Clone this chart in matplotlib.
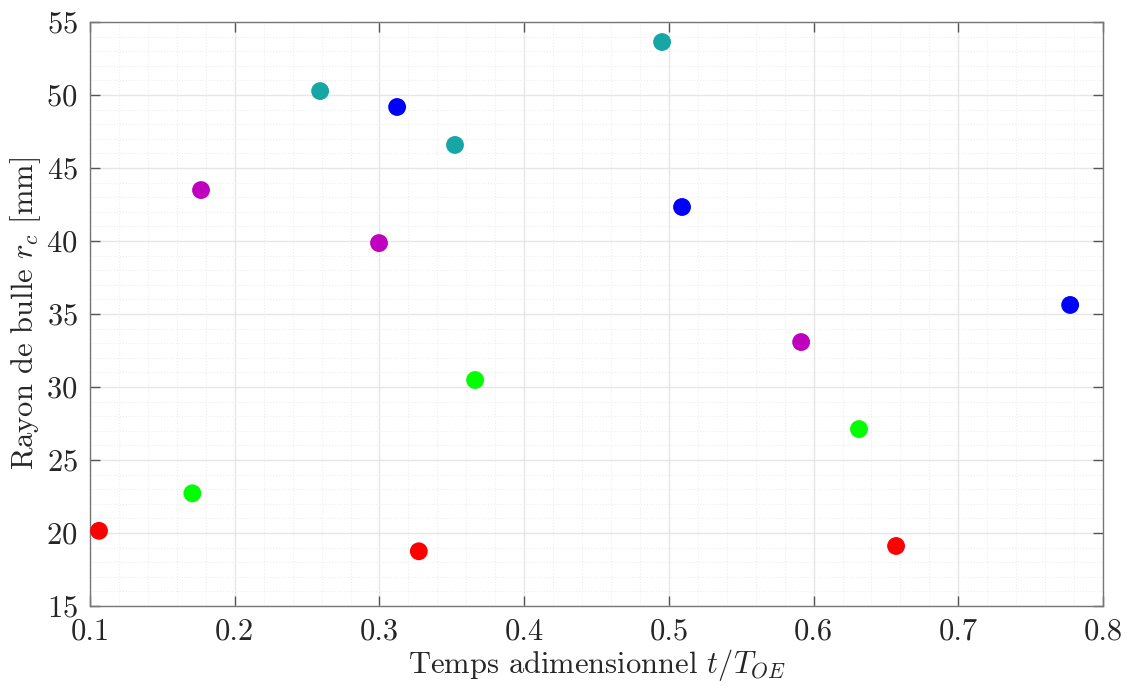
import numpy as np
import matplotlib
matplotlib.use("Agg")
import matplotlib.pyplot as plt
from matplotlib.ticker import MultipleLocator, FormatStrFormatter

# one group per colour, three points each
t_red = [0.1062, 0.3272, 0.6570]
r_red = [20.15, 18.75, 19.11]
t_green = [0.1707, 0.3661, 0.6314]
r_green = [22.72, 30.48, 27.12]
t_magenta = [0.1767, 0.2997, 0.5914]
r_magenta = [43.49, 39.86, 33.08]
t_teal = [0.2590, 0.3522, 0.4953]
r_teal = [50.27, 46.58, 53.63]
t_blue = [0.3122, 0.5091, 0.7773]
r_blue = [49.18, 42.33, 35.62]

plt.rcParams['font.family'] = 'serif'
plt.rcParams['font.serif'] = ['cmr10']
plt.rcParams['mathtext.fontset'] = 'cm'
plt.rcParams['axes.formatter.use_mathtext'] = True

fig = plt.figure(figsize=(11.27, 6.86), dpi=100)
ax = fig.add_axes([0.0799, 0.1166, 0.8988, 0.8513])

groups = [
    (t_red, r_red, '#ff0000'),
    (t_green, r_green, '#00ff00'),
    (t_magenta, r_magenta, '#bf00bf'),
    (t_teal, r_teal, '#17a6a6'),
    (t_blue, r_blue, '#0000ff'),
]
for t, r, c in groups:
    ax.scatter(t, r, s=165, color=c, edgecolors='none', zorder=3)

ax.set_xlim(0.1, 0.8)
ax.set_ylim(15, 55)
ax.xaxis.set_major_locator(MultipleLocator(0.1))
ax.xaxis.set_minor_locator(MultipleLocator(0.02))
ax.xaxis.set_major_formatter(FormatStrFormatter('%.1f'))
ax.yaxis.set_major_locator(MultipleLocator(5))
ax.yaxis.set_minor_locator(MultipleLocator(1))

ax.grid(which='major', color='#e6e6e6', linewidth=1.0, linestyle='-')
ax.grid(which='minor', color='#eeeeee', linewidth=0.8, linestyle=':')
ax.set_axisbelow(True)

for sp in ax.spines.values():
    sp.set_color('#777777')
    sp.set_linewidth(1.0)
ax.tick_params(which='major', direction='in', length=7, width=1.0,
               top=True, right=True, color='#555555', labelsize=22,
               labelcolor='#262626', pad=9)
ax.tick_params(which='minor', length=0)

ax.set_xlabel(r'Temps adimensionnel $t/T_{OE}$', fontsize=22, color='#262626', labelpad=1)
ax.set_ylabel(r'Rayon de bulle $r_c$ [mm]', fontsize=22, color='#262626', labelpad=2)

fig.savefig('out.png', dpi=100, facecolor='white')
